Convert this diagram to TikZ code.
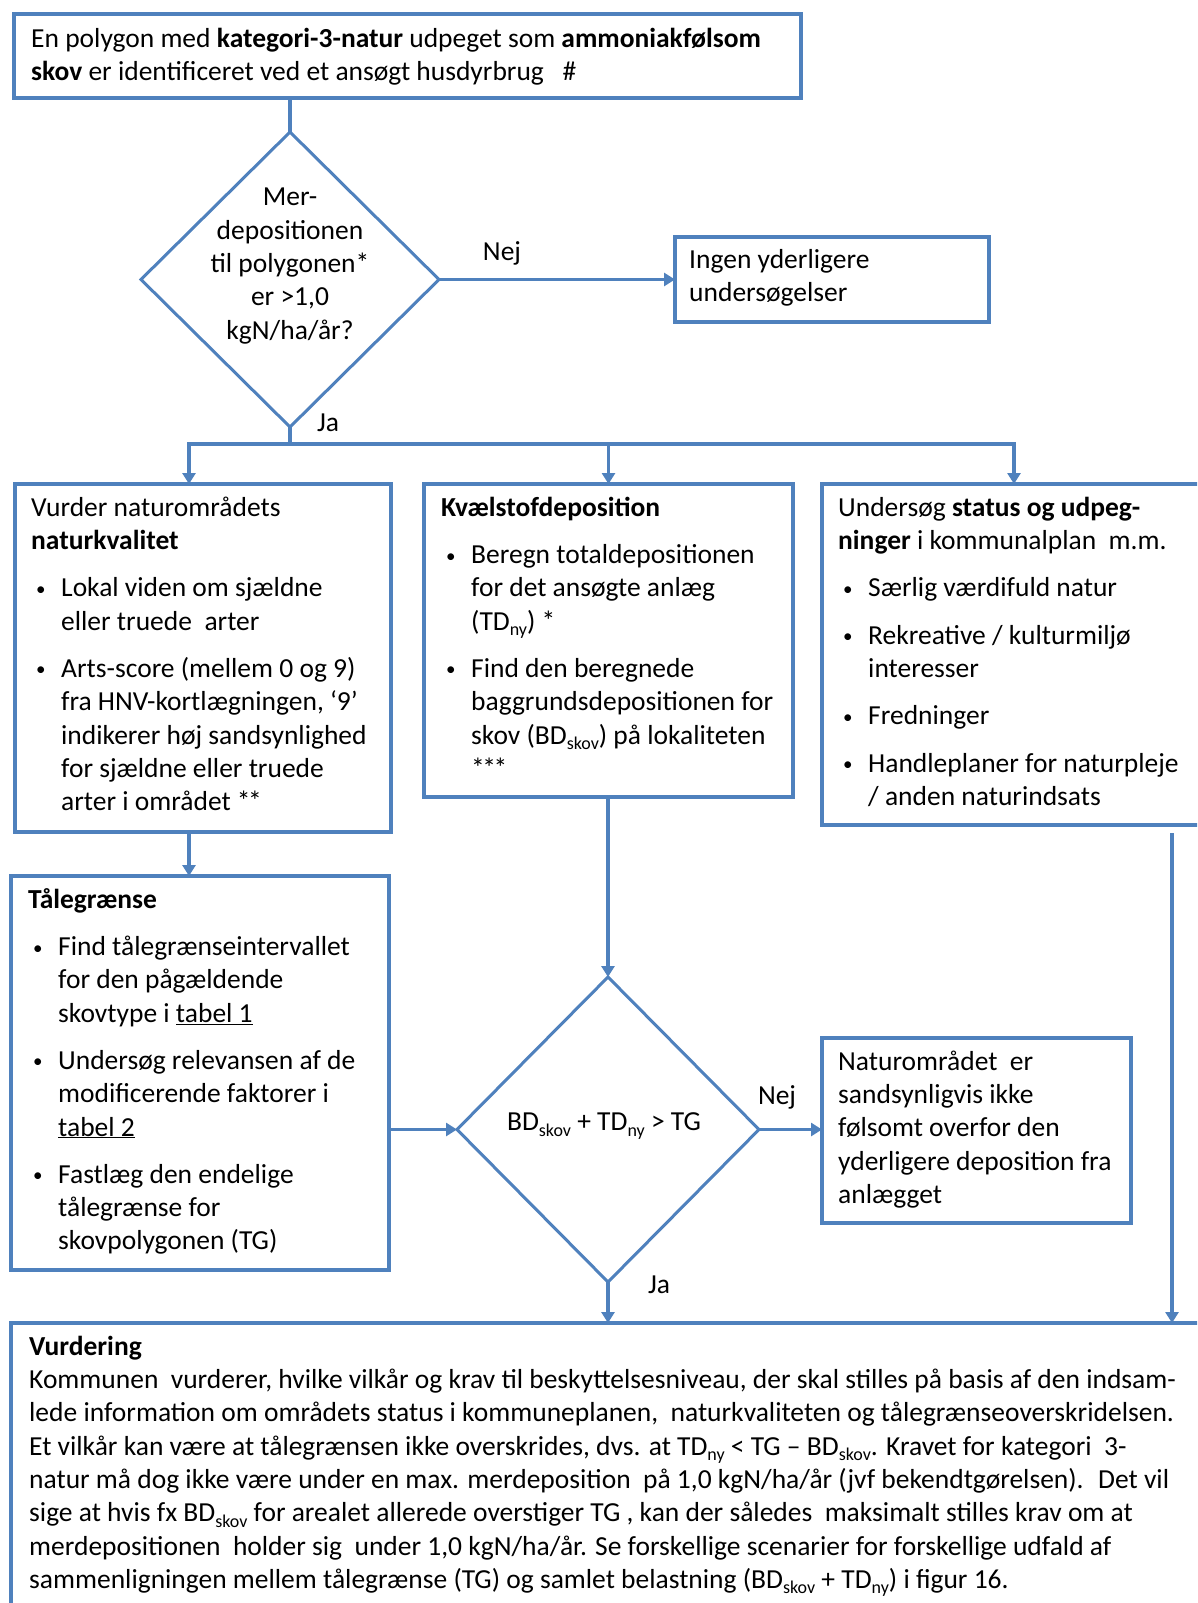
\documentclass[tikz,border=0pt]{standalone}
\usepackage{fontspec}
\setmainfont{Carlito}
\usetikzlibrary{shapes.geometric,arrows.meta}
\definecolor{bl}{RGB}{79,129,189}
\newcommand\fs{\fontsize{27.5}{33.3}\selectfont}
\newcommand\st{\rule{0pt}{23pt}}
\newcommand\bul{\hspace*{5pt}\makebox[25pt][l]{\raisebox{1.5pt}{\fontsize{19}{19}\selectfont\textbullet}}}
\newcommand\ind{\hspace*{30pt}}
\newcommand\sub[1]{\raisebox{-5.5pt}{\fontsize{18}{18}\selectfont #1}}
\newcommand\myast{*\kern-2.5pt}
\begin{document}
\begin{tikzpicture}[x=1pt,y=-1pt,
 box/.style={draw=bl,line width=4pt,inner sep=0pt,outer sep=0pt,anchor=north west},
 dia/.style={draw=bl,line width=3pt,diamond,inner sep=0pt,outer sep=0pt},
 txt/.style={anchor=north west,inner sep=0pt,align=left,font=\fs},
 ctxt/.style={inner sep=0pt,align=center,font=\fs},
 conn/.style={draw=bl,line width=3.5pt},
 arr/.style={conn,-{Triangle[length=11pt,width=13pt]}},
 lbl/.style={font=\fs,inner sep=0pt}
]
\path[use as bounding box,clip] (0,0) rectangle (1197,1603);
\fill[white] (0,0) rectangle (1197,1603);

% boxes
\node[box,minimum width=787pt,minimum height=84pt] (top) at (14,14) {};
\node[box,minimum width=314pt,minimum height=85pt] (ingen) at (675,237) {};
\node[box,minimum width=376pt,minimum height=348pt] (boxA) at (15,484) {};
\node[box,minimum width=369pt,minimum height=313pt] (boxB) at (424,484) {};
\node[box,minimum width=400pt,minimum height=341pt] (boxC) at (822,484) {};
\node[box,minimum width=378pt,minimum height=394pt] (boxD) at (11,876) {};
\node[box,minimum width=309pt,minimum height=185pt] (boxE) at (822,1038) {};
\node[box,minimum width=1210pt,minimum height=300pt] (boxF) at (11,1323) {};

% diamonds
\node[dia,minimum width=298pt,minimum height=295pt] (d1) at (290,279.5) {};
\node[dia,minimum width=302pt,minimum height=305pt] (d2) at (608,1129.5) {};

% texts
\node[txt] (ttop) at (31,24) {\st En polygon med \textbf{kategori-3-natur} udpeget som \textbf{ammoniakfølsom}\\
\textbf{skov} er identificeret ved et ansøgt husdyrbrug \ \ \#};
\node[txt] (tingen) at (689,245) {\st Ingen yderligere\\ undersøgelser};
\node[ctxt] (td1) at (290,266) {Mer-\\depositionen\\til polygonen*\\er >1,0\\kgN/ha/år?};
\node[txt] (tA) at (31,493) {\st Vurder naturområdets\\
\textbf{naturkvalitet}\\[14pt]
\bul Lokal viden om sjældne\\
\ind eller truede \ arter\\[14pt]
\bul Arts-score (mellem 0 og 9)\\
\ind fra HNV-kortlægningen, ‘9’\\
\ind indikerer høj sandsynlighed\\
\ind for sjældne eller truede\\
\ind arter i området \myast*};
\node[txt] (tB) at (441,493) {\st \textbf{Kvælstofdeposition}\\[14pt]
\bul Beregn totaldepositionen\\
\ind for det ansøgte anlæg\\
\ind (TD\sub{ny}) *\\[14pt]
\bul Find den beregnede\\
\ind baggrundsdepositionen for\\
\ind skov (BD\sub{skov}) på lokaliteten\\
\ind \myast\myast*};
\node[txt] (tC) at (838,493) {\st Undersøg \textbf{status og udpeg-}\\
\textbf{ninger} i kommunalplan \ m.m.\\[14pt]
\bul Særlig værdifuld natur\\[14pt]
\bul Rekreative / kulturmiljø\\
\ind interesser\\[14pt]
\bul Fredninger\\[14pt]
\bul Handleplaner for naturpleje\\
\ind / anden naturindsats};
\node[txt] (tD) at (28,885) {\st \textbf{Tålegrænse}\\[14pt]
\bul Find tålegrænseintervallet\\
\ind for den pågældende\\
\ind skovtype i \underline{tabel 1}\\[14pt]
\bul Undersøg relevansen af de\\
\ind modificerende faktorer i\\
\ind \underline{tabel 2}\\[14pt]
\bul Fastlæg den endelige\\
\ind tålegrænse for\\
\ind skovpolygonen (TG)};
\node[ctxt] (td2) at (604,1126) {BD\sub{skov} + TD\sub{ny} > TG};
\node[txt] (tE) at (838,1047) {\st Naturområdet \ er\\
sandsynligvis ikke\\
følsomt overfor den\\
yderligere deposition fra\\
anlægget};
\node[txt] (tF) at (29,1332) {\st \textbf{Vurdering}\\
Kommunen \ vurderer, hvilke vilkår og krav til beskyttelsesniveau, der skal stilles på basis af den indsam-\\
lede information om områdets status i kommuneplanen, \ naturkvaliteten og tålegrænseoverskridelsen.\\
Et vilkår kan være at tålegrænsen ikke overskrides, dvs. at TD\sub{ny} < TG – BD\sub{skov}. Kravet for kategori \ 3-\\
natur må dog ikke være under en max. merdeposition \ på 1,0 kgN/ha/år (jvf bekendtgørelsen). \ Det vil\\
sige at hvis fx BD\sub{skov} for arealet allerede overstiger TG , kan der således \ maksimalt stilles krav om at\\
merdepositionen \ holder sig \ under 1,0 kgN/ha/år. Se forskellige scenarier for forskellige udfald af\\
sammenligningen mellem tålegrænse (TG) og samlet belastning (BD\sub{skov} + TD\sub{ny}) i figur 16.};

% labels
\node[lbl] (nej1) at (502,253) {Nej};
\node[lbl] (ja1) at (328,423) {Ja};
\node[lbl] (nej2) at (777,1097) {Nej};
\node[lbl] (ja2) at (659,1285) {Ja};

% connectors
\coordinate (j) at (290,444);
\coordinate (jl) at (189,444);
\coordinate (jr) at (1014,444);
\coordinate (rc) at (1172,833);
\draw[conn] (top.south -| d1.north) -- (d1.north);
\draw[arr] (d1.east) -- (d1.east -| ingen.west);
\draw[conn] (d1.south) -- (j);
\draw[conn] ([xshift=-1.75pt]jl) -- ([xshift=1.75pt]jr);
\draw[arr] (jl) -- (jl |- boxA.north);
\draw[arr] (j -| boxB.north) -- (boxB.north);
\draw[arr] (jr) -- (jr |- boxC.north);
\draw[arr] (boxA.south -| jl) -- (jl |- boxD.north);
\draw[arr] (boxB.south -| d2.north) -- (d2.north);
\draw[arr] (d2.west -| boxD.east) -- (d2.west);
\draw[arr] (d2.east) -- (d2.east -| boxE.west);
\draw[arr] (d2.south) -- (d2.south |- boxF.north);
\draw[arr] (rc) -- (rc |- boxF.north);
\end{tikzpicture}
\end{document}
